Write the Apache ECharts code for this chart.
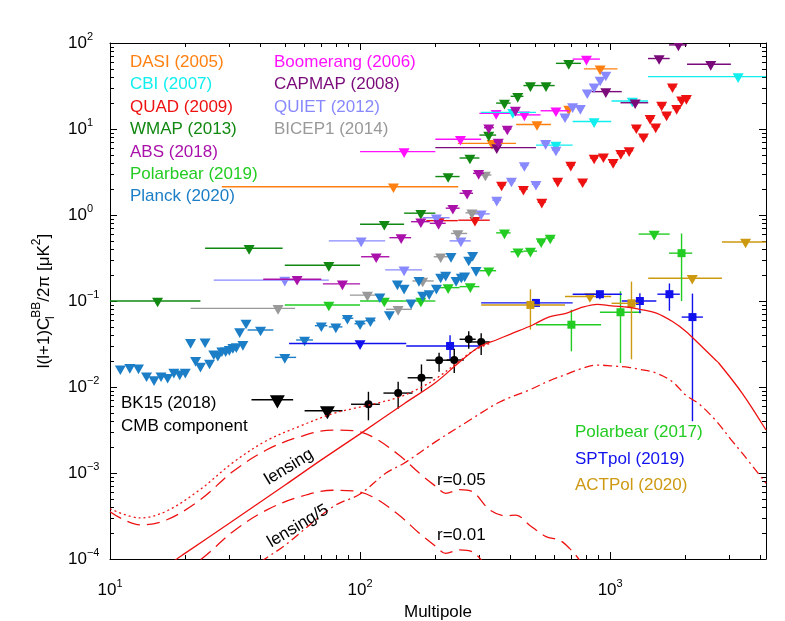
<!DOCTYPE html>
<html><head><meta charset="utf-8">
<script src="https://cdn.jsdelivr.net/npm/echarts@6/dist/echarts.min.js"></script>
<style>html,body{margin:0;padding:0;background:#fff}#c{width:785px;height:621px}</style>
</head><body><div id="c"></div>
<script>
// ---------- axes ----------
const X_MIN = 10, X_MAX = 4200, Y_MIN = 1e-4, Y_MAX = 100;
const xTicksMajor = [10, 100, 1000];
const xTicksMinor = [20,30,40,50,60,70,80,90,200,300,400,500,600,700,800,900,2000,3000,4000];
const yTicksMajor = [1e-4, 1e-3, 1e-2, 1e-1, 1, 10, 100];
const yTicksMinor = [];
for (let e = -4; e < 2; e++) for (let m = 2; m <= 9; m++) yTicksMinor.push(+(m * Math.pow(10, e)).toPrecision(3));

// ---------- upper limits: [l, value, lmin, lmax] ----------
const dasi = [[136,2.13,28,247],[337,6.8,246,420],[510,11.3,421,580],[683,17.1,660,710],[912,50,785,1070]];
const boomerang = [[150,5.45,100,200],[252,7.6,200,305],[350,15.2,300,406],[454,14.6,406,527],[607,16.3,527,686],[804,65,708,910]];
const cbi = [[408,15.6,304,505],[607,6.5,505,708],[863,12.2,708,1010],[1227,21.2,1013,1417],[3250,40.6,1417,4200]];
const capmap = [[352,6.07,200,505],[961,27.2,843,1113],[1259,20.2,1100,1420],[1570,66,1417,1730],[1875,95,1720,2030],[2525,56.5,2030,3040]];
const quad = [[208,0.86,184,246],[288,0.87,247,330],[368,2.23,355,382],[450,1.99,433,468],[533,1.41,513,553],[617,2.48,595,640],[696,3.8,670,722],[776,2.44,748,805],[863,4.6,830,895],[940,4.76,905,975],[1028,4.1,990,1066],[1103,5.2,1062,1145],[1191,5.6,1147,1236],[1273,10.35,1225,1320],[1359,8.13,1310,1410],[1445,13.3,1392,1500],[1521,10.6,1465,1578],[1607,19,1548,1667],[1682,14.6,1620,1745],[1775,31,1710,1842],[1845,17.4,1777,1914],[1932,21.8,1861,2004],[2018,22.7,1944,2093]];
const quiet = [[50,0.175,26,75],[101,0.5,75,126],[150,0.23,126,177],[202,0.93,178,228],[253,0.5,228,277],[305,1.03,280,330],[352,1.49,338,366],[403,2.49,388,418],[454,3.77,437,471],[505,2.28,486,524],[552,6.8,532,572],[607,5.7,585,630],[660,13.9,636,684],[708,18.2,682,734],[760,17.4],[810,26.4],[863,31],[912,37.1],[961,42.5]];
const wmap = [[15.5,0.10,10,23],[36,0.41,24,49],[75,0.26,50,100],[125,0.78,100,150],[175,1.05,150,200],[225,2.8,200,250],[275,4.6,250,300],[327,8.5,300,350],[378,20,350,400],[427,24,400,450],[480,32,450,510],[554,32,510,600],[683,58,607,764]];
const bicep1 = [[47,0.082,21,55],[107,0.117,91,124],[142,0.08,127,161],[178,0.171,162,197],[210,0.327,197,229],[246,0.61,231,268],[280,1.06,264,300],[317,2.92,300,335]];
const abs = [[56,0.179,41,70],[85,0.158,71,100],[116,0.327,101,131],[146,0.545,131,160],[175,0.836,160,190],[206,0.8,190,220],[235,1.2,220,250],[268,1.79,250,283],[298,3.05,283,313],[327,10.35,313,343],[357,7.06,343,373],[388,10,373,403],[418,16.6,403,433]];
const polarbear19 = [[75,0.09,50,100],[125,0.1,100,150],[175,0.1,150,200],[225,0.143,200,250],[276,0.147,250,300],[327,0.225,300,350],[378,0.62,350,400],[428,0.374,400,450],[480,0.38,450,510],[530,0.49,510,550],[576,0.54,550,600],[1500,0.6,1300,1730]];
const planck = [[11,0.0163],[12,0.0169],[13,0.0167],[14,0.0135],[15,0.0122],[16,0.0135],[17,0.013],[18,0.0149],[19,0.0142],[20,0.0149],[21,0.033],[22,0.0204],[23,0.0175],[24,0.0336],[25,0.019],[26,0.0244],[27,0.0235],[28,0.0264],[29,0.0264],[30,0.0274],[31,0.0289],[32,0.0295],[33,0.044],[34,0.0313],[35,0.0555],[40,0.046,35.5,45],[50,0.0221,45.6,55.5],[60,0.0352,55.5,64.8],[70,0.0516,66,74],[80,0.05,75,85],[89,0.063,85,94],[100,0.0544,95,105],[110,0.059,105,115],[120,0.112],[131,0.0697],[141,0.158],[150,0.141],[160,0.0952],[172,0.174],[178,0.117],[189,0.122],[202,0.141],[210,0.19],[220,0.2],[231,0.33],[242,0.174],[254,0.19],[262,0.196],[272,0.30],[282,0.34],[291,0.227]];
const sptpolLimits = [[100,0.032,52,153]];
const actpolLimits = [[830,0.113,660,1010],[2130,0.184,1420,2800],[3480,0.486,2800,4200]];
const bk15Limits = [[46.7,0.0071,36.8,54],[74,0.0053,60,85]];

// ---------- detections: [l, value, lmin, lmax, vmin, vmax] ----------
const bk15 = [[108,0.0063,92,120,0.0041,0.0088],[142,0.0085,124,162,0.0056,0.0115],[176,0.0128,155,195,0.0088,0.0183],[207,0.0205,184,230,0.015,0.0251],[238,0.0206,222,260,0.0145,0.0279],[272,0.0359,250,290,0.0279,0.0446],[305,0.0334,273,330,0.0235,0.0423]];
const polarbear17 = [[700,0.053,505,920,0.026,0.079],[1100,0.074,910,1330,0.019,0.13],[1930,0.36,1720,2130,0.10,0.61]];
const sptpol = [[229,0.030,153,305,0.0206,0.040],[505,0.095,305,708,0.087,0.104],[910,0.12,708,1113,0.105,0.127],[1315,0.1,1113,1530,0.072,0.123],[1726,0.12,1545,1900,0.077,0.16],[2134,0.065,1932,2350,0.004,0.122]];
const actpol = [[480,0.09,305,660,0.0465,0.137],[1217,0.094,1013,1300,0.021,0.168]];

// ---------- theory curves: [l, value] ----------
const lensing = [[15,6.6e-5],[18.5,1.0e-4],[20,1.17e-4],[30,2.6e-4],[50,7.2e-4],[70,1.42e-3],[100,2.85e-3],[150,6.4e-3],[200,0.0112],[250,0.0195],[300,0.0294],[350,0.0352],[400,0.0413],[490,0.0526],[571,0.0655],[666,0.0718],[752,0.0823],[889,0.0915],[1012,0.0878],[1187,0.0846],[1300,0.0804],[1530,0.0723],[1775,0.0577],[2010,0.0443],[2260,0.032],[2640,0.0206],[2723,0.0189],[3375,0.00845],[4200,0.00316]];
const lensing5 = [[30,5.2e-5],[41.6,1.0e-4],[50,1.44e-4],[78,4.06e-4],[100,5.7e-4],[127,1.0e-3],[150,1.3e-3],[200,2.3e-3],[274,4.1e-3],[362,6.7e-3],[474,9.2e-3],[571,0.0118],[666,0.0140],[752,0.0160],[889,0.0180],[1012,0.0176],[1187,0.0169],[1300,0.0161],[1530,0.0145],[1775,0.0115],[2010,0.0080],[2260,0.0064],[2640,0.0041],[3060,0.0024],[3375,0.0017],[4200,7.6e-4]];
const tensor005 = [[10,3.55e-4],[13.2,2.49e-4],[16.8,2.84e-4],[22.9,4.85e-4],[31,1.04e-3],[42.2,1.85e-3],[57.4,2.64e-3],[77.7,3.16e-3],[93.5,3.11e-3],[112,2.64e-3],[143,1.62e-3],[173,9.9e-4],[202,6.9e-4],[220,5.8e-4],[250,6.4e-4],[283,6.0e-4],[330,3.72e-4],[383,3.18e-4],[420,3.24e-4],[475,2.49e-4],[554,1.82e-4],[626,1.66e-4],[688,1.33e-4],[754,9.7e-5],[800,7.0e-5]];
const tensor001 = [[10,7.1e-5],[13.2,5.0e-5],[16.8,5.7e-5],[22.9,9.7e-5],[31,2.08e-4],[42.2,3.7e-4],[57.4,5.3e-4],[77.7,6.3e-4],[93.5,6.2e-4],[112,5.3e-4],[143,3.24e-4],[173,1.98e-4],[202,1.38e-4],[220,1.16e-4],[250,1.28e-4],[283,1.2e-4],[330,7.4e-5]];
const total005 = [[10,3.84e-4],[13.2,3.0e-4],[16.8,3.6e-4],[22.9,6.4e-4],[31,1.32e-3],[42.2,2.37e-3],[57.4,3.5e-3],[77.7,4.9e-3],[93.5,5.6e-3],[112,6.3e-3],[143,7.6e-3],[173,9.7e-3],[202,0.0126],[250,0.0201],[283,0.0262],[330,0.0322]];

// ---------- styling ----------
const FONT = '"Liberation Sans", Arial, Helvetica, sans-serif';
const RED = '#ee1111';
const C = {
  dasi:'#ff8010', boom:'#ff11ff', cbi:'#11eeee', capmap:'#7a0a7a', quad:'#ee1111',
  quiet:'#8888ff', wmap:'#118811', bicep:'#999999', abs:'#aa11aa', pb:'#22cc22',
  planck:'#1b7ec6', spt:'#1111ee', act:'#cc9911', bk:'#000000'
};

function ulSeries(data, color, hw) {
  return {
    type: 'custom', data: data, clip: true, xAxisIndex: 0, yAxisIndex: 0,
    dimensions: ['l','v','lo','hi'], encode: {x: 0, y: 1},
    renderItem: function (params, api) {
      const l = api.value(0), v = api.value(1), lo = api.value(2), hi = api.value(3);
      const p = api.coord([l, v]);
      const ch = [];
      if (isFinite(lo) && isFinite(hi) && lo > 0 && hi > 0) {
        const a = api.coord([lo, v]), b = api.coord([hi, v]);
        ch.push({type:'line', shape:{x1:a[0], y1:p[1], x2:b[0], y2:p[1]}, style:{stroke:color, lineWidth:1.4}});
      }
      ch.push({type:'polygon', shape:{points:[[p[0]-hw, p[1]-hw*0.6],[p[0]+hw, p[1]-hw*0.6],[p[0], p[1]+hw*1.15]]}, style:{fill:color}});
      return {type:'group', children: ch};
    }
  };
}
function ebSeries(data, color, shape, size) {
  return {
    type: 'custom', data: data, clip: true, xAxisIndex: 0, yAxisIndex: 0,
    dimensions: ['l','v','lo','hi','vlo','vhi'], encode: {x: 0, y: 1},
    renderItem: function (params, api) {
      const l = api.value(0), v = api.value(1);
      const p = api.coord([l, v]);
      const a = api.coord([api.value(2), v]), b = api.coord([api.value(3), v]);
      const c = api.coord([l, api.value(4)]), d = api.coord([l, api.value(5)]);
      const ch = [
        {type:'line', shape:{x1:a[0], y1:p[1], x2:b[0], y2:p[1]}, style:{stroke:color, lineWidth:1.4}},
        {type:'line', shape:{x1:p[0], y1:c[1], x2:p[0], y2:d[1]}, style:{stroke:color, lineWidth:1.4}}
      ];
      if (shape === 'circle') ch.push({type:'circle', shape:{cx:p[0], cy:p[1], r:size/2}, style:{fill:color}});
      else ch.push({type:'rect', shape:{x:p[0]-size/2, y:p[1]-size/2, width:size, height:size}, style:{fill:color}});
      return {type:'group', children: ch};
    }
  };
}
function curve(data, dash) {
  return {
    type:'line', data:data, xAxisIndex:0, yAxisIndex:0, showSymbol:false, symbol:'none',
    smooth:0.35, clip:true, silent:true,
    lineStyle:{color:RED, width:1.3, type:dash}
  };
}

function powLabel(v) {
  const e = Math.round(Math.log10(v));
  const s = e < 0 ? '\u2212' + (-e) : '' + e;
  return '{b|10}{e|' + s + '}';
}
const labRich = {
  b:{fontSize:17, fontFamily:FONT, color:'#000', lineHeight:24, verticalAlign:'middle'},
  e:{fontSize:11, fontFamily:FONT, color:'#000', lineHeight:11, verticalAlign:'top'}
};

function xAx(pos, ticks, len, major, withLabel) {
  const o = {
    type:'log', logBase:10, min:X_MIN, max:X_MAX, position:pos,
    axisLine:{show:major, onZero:false, lineStyle:{color:'#000', width:1}},
    axisTick:{show:true, inside:true, length:len, customValues:ticks, lineStyle:{color:'#000', width:1}},
    axisLabel:{show:false}, splitLine:{show:false}, minorTick:{show:false}
  };
  if (withLabel) {
    o.axisLabel = {show:true, customValues:xTicksMajor, formatter:powLabel, rich:labRich, margin:19};
    o.name = 'Multipole'; o.nameLocation = 'middle'; o.nameGap = 41;
    o.nameTextStyle = {fontSize:17, fontFamily:FONT, color:'#000'};
  }
  return o;
}
function yAx(pos, ticks, len, major, withLabel) {
  const o = {
    type:'log', logBase:10, min:Y_MIN, max:Y_MAX, position:pos,
    axisLine:{show:major, onZero:false, lineStyle:{color:'#000', width:1}},
    axisTick:{show:true, inside:true, length:len, customValues:ticks, lineStyle:{color:'#000', width:1}},
    axisLabel:{show:false}, splitLine:{show:false}, minorTick:{show:false}
  };
  if (withLabel) {
    o.axisLabel = {show:true, customValues:yTicksMajor, formatter:powLabel, rich:labRich, margin:42, align:'left'};
    o.name = '{b|l(l+1)C}{sub|l}{sup|BB}{b|/2\u03c0 [\u03bcK}{sup|2}{b|]}';
    o.nameLocation = 'middle'; o.nameGap = 52;
    o.nameTextStyle = {fontSize:17, fontFamily:FONT, color:'#000', rich:{
      b:{fontSize:17, fontFamily:FONT, color:'#000', lineHeight:26, verticalAlign:'middle'},
      sup:{fontSize:12, fontFamily:FONT, color:'#000', lineHeight:12, verticalAlign:'top'},
      sub:{fontSize:12, fontFamily:FONT, color:'#000', lineHeight:12, verticalAlign:'bottom', width:0}
    }};
  }
  return o;
}

function txt(x, y, text, color, opts) {
  opts = opts || {};
  return {type:'text', x:x, y:y, rotation:opts.rot || 0, z:100,
    style:{text:text, fill:color, fontSize:opts.size || 17, fontFamily:FONT,
      align:opts.align || 'left', verticalAlign:'middle'}};
}

const graphics = [
  txt(130, 62, 'DASI (2005)', C.dasi), txt(130, 84, 'CBI (2007)', C.cbi),
  txt(130, 107, 'QUAD (2009)', C.quad), txt(130, 129, 'WMAP (2013)', C.wmap),
  txt(130, 152, 'ABS (2018)', C.abs), txt(130, 174, 'Polarbear (2019)', C.pb),
  txt(130, 196, 'Planck (2020)', C.planck),
  txt(274, 62, 'Boomerang (2006)', C.boom), txt(274, 84, 'CAPMAP (2008)', C.capmap),
  txt(274, 107, 'QUIET (2012)', C.quiet), txt(274, 129, 'BICEP1 (2014)', C.bicep),
  txt(121, 403, 'BK15 (2018)', '#000'), txt(121, 426, 'CMB component', '#000'),
  txt(575, 432, 'Polarbear (2017)', C.pb), txt(575, 459, 'SPTpol (2019)', C.spt),
  txt(575, 485, 'ACTPol (2020)', C.act),
  txt(289, 467, 'lensing', '#000', {align:'center', rot:0.55}),
  txt(298, 526, 'lensing/5', '#000', {align:'center', rot:0.54}),
  txt(437, 480, 'r=0.05', '#000'), txt(437, 535, 'r=0.01', '#000')
];

const option = {
  animation:false, backgroundColor:'#fff',
  grid:{left:110, right:19, top:43, bottom:62, containLabel:false, outerBoundsMode:'none'},
  xAxis:[xAx('bottom', xTicksMajor, 7, true, true), xAx('bottom', xTicksMinor, 4, false, false),
         xAx('top', xTicksMajor, 7, true, false), xAx('top', xTicksMinor, 4, false, false)],
  yAxis:[yAx('left', yTicksMajor, 7, true, true), yAx('left', yTicksMinor, 4, false, false),
         yAx('right', yTicksMajor, 7, true, false), yAx('right', yTicksMinor, 4, false, false)],
  graphic: graphics,
  series:[
    curve(lensing, 'solid'), curve(lensing5, [9,4,2,4]), curve(tensor005, [13,7]),
    curve(tensor001, [13,7]), curve(total005, [2,3]),
    ulSeries(dasi, C.dasi, 5.5), ulSeries(boomerang, C.boom, 5.5), ulSeries(cbi, C.cbi, 5.5),
    ulSeries(capmap, C.capmap, 5.5), ulSeries(quad, C.quad, 5.5), ulSeries(quiet, C.quiet, 5.5),
    ulSeries(wmap, C.wmap, 5.5), ulSeries(bicep1, C.bicep, 5.5), ulSeries(abs, C.abs, 5.5),
    ulSeries(polarbear19, C.pb, 5.5), ulSeries(planck, C.planck, 5.5),
    ulSeries(sptpolLimits, C.spt, 5.5), ulSeries(actpolLimits, C.act, 5.5),
    ebSeries(polarbear17, C.pb, 'rect', 8), ebSeries(sptpol, C.spt, 'rect', 8),
    ebSeries(actpol, C.act, 'rect', 8), ebSeries(bk15, C.bk, 'circle', 8),
    ulSeries(bk15Limits, C.bk, 7.5)
  ]
};
const chart = echarts.init(document.getElementById('c'));
chart.setOption(option);
</script></body></html>
